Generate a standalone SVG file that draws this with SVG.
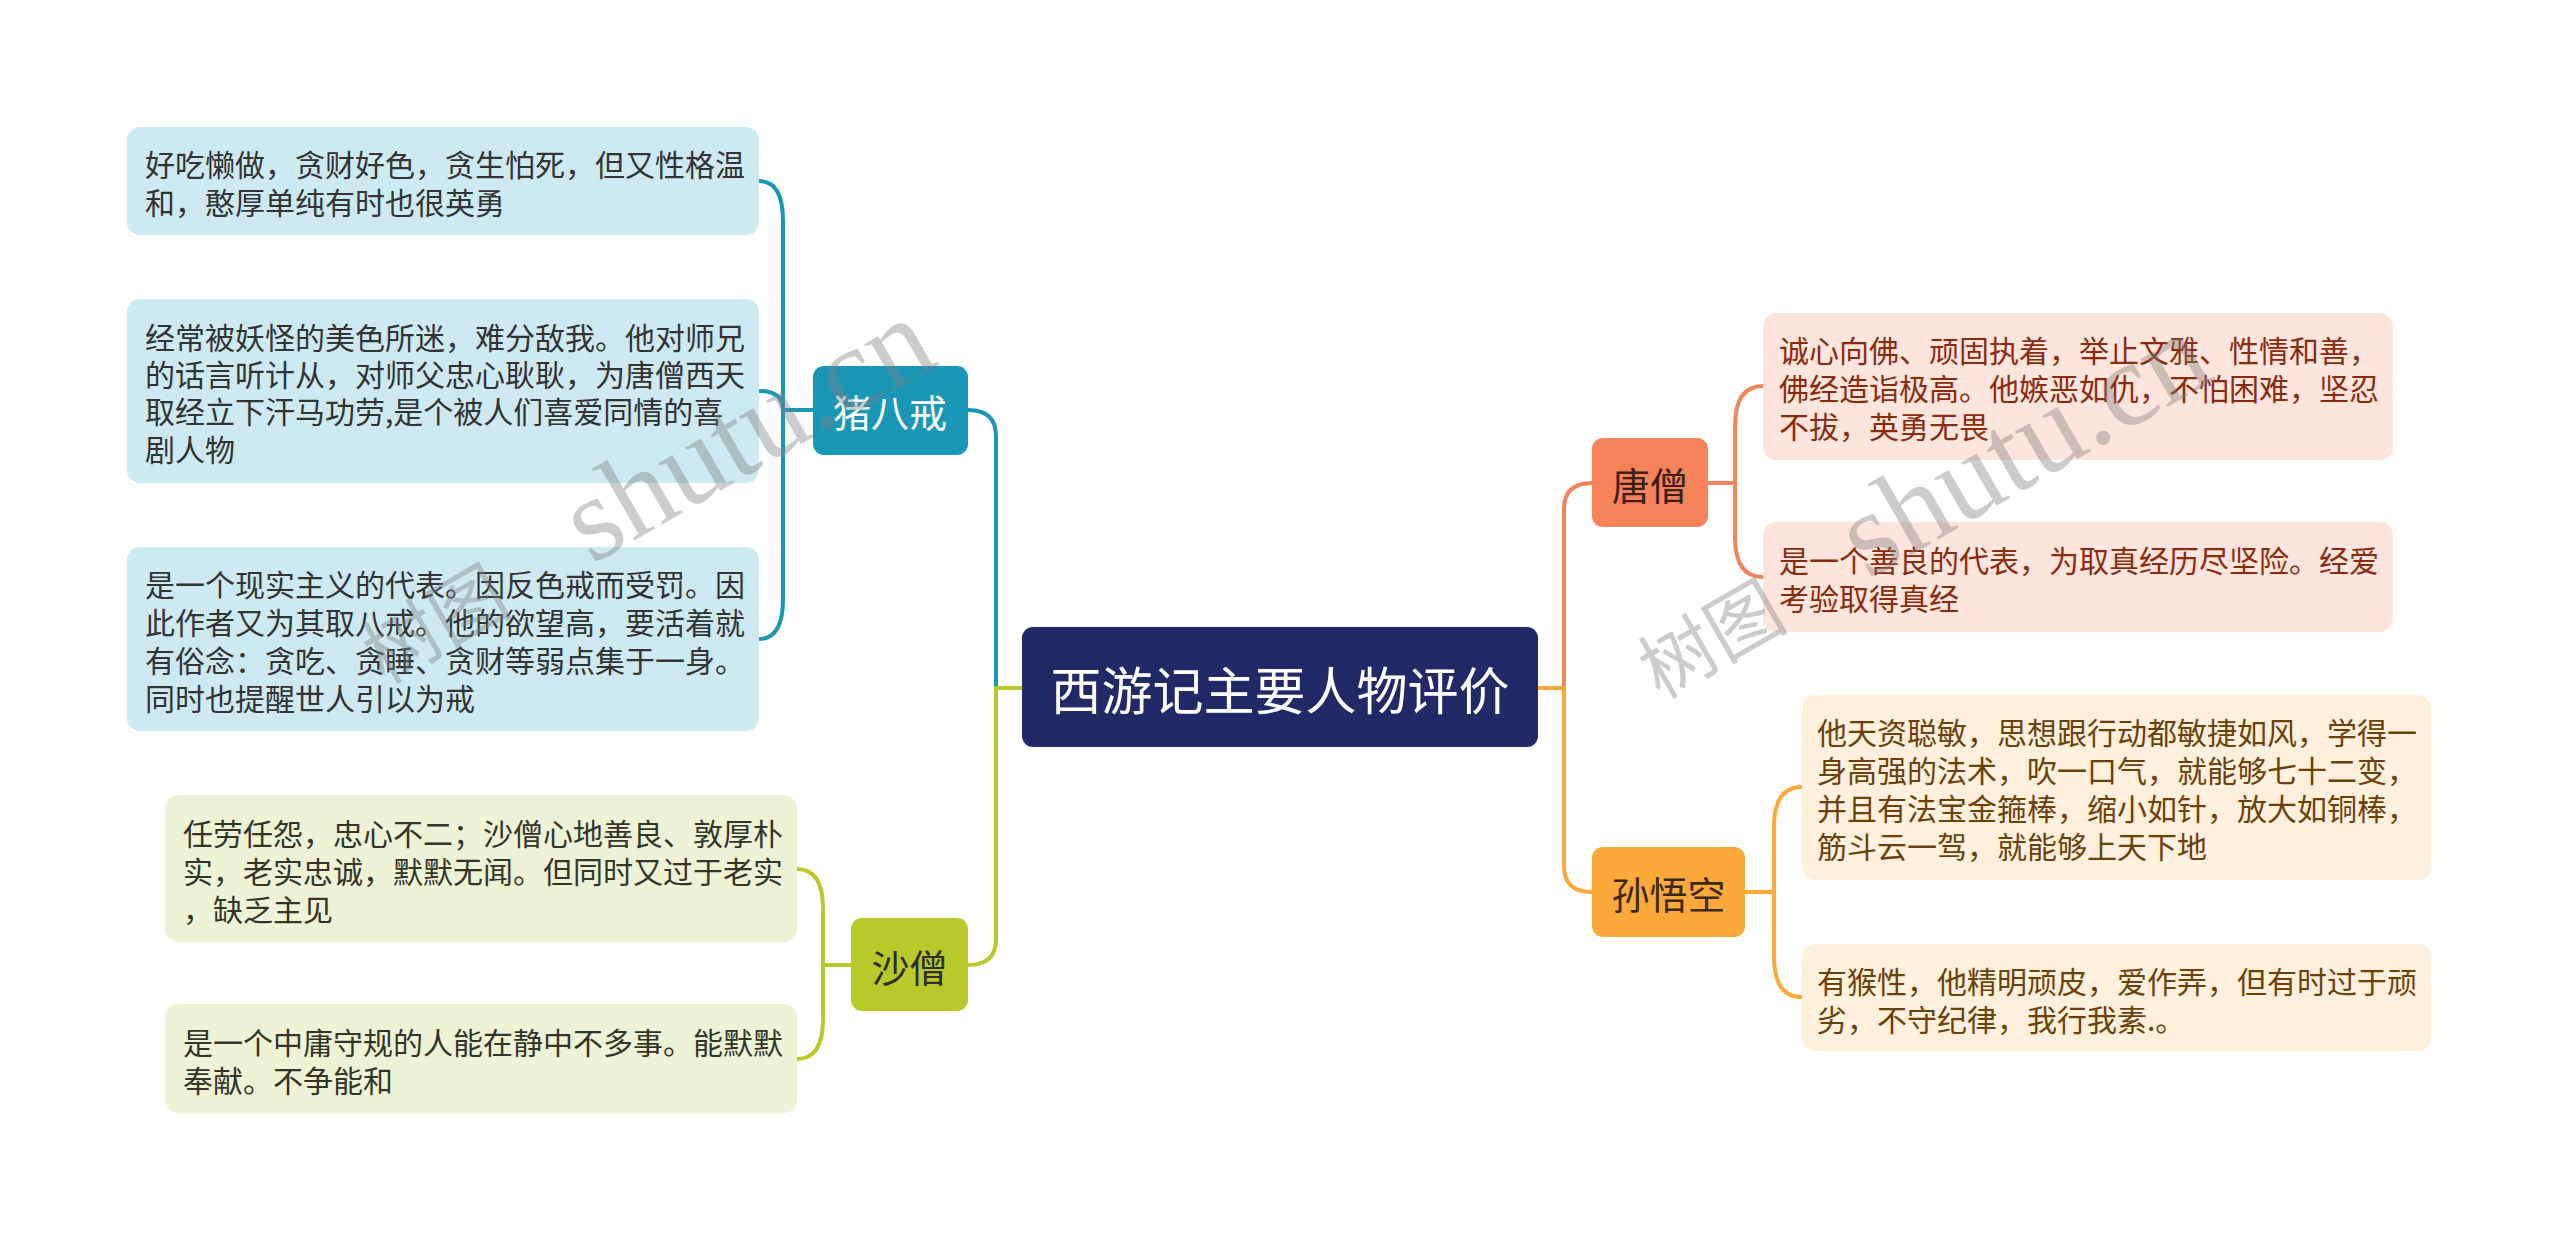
<svg xmlns="http://www.w3.org/2000/svg" width="2560" height="1241" viewBox="0 0 2560 1241">
<style>
.t{font-family:"Noto Sans CJK SC","Noto Sans",sans-serif;font-size:30px;dominant-baseline:central}
.n{font-family:"Noto Sans CJK SC","Noto Sans",sans-serif;font-size:38px;dominant-baseline:central;text-anchor:middle}
.c{fill:none;stroke-width:4;stroke-linecap:round;stroke-linejoin:round}
.wm{font-family:"Liberation Serif","Noto Sans CJK SC",serif;fill:#808080;fill-opacity:0.4}
</style>
<rect width="2560" height="1241" fill="#ffffff"/>
<g id="connectors">
<path class="c" stroke="#1a97b7" d="M1022 688 H996 V436 Q996 410 968 410"/>
<path class="c" stroke="#b9c92b" d="M1022 688 H996 V939 Q996 965 968 965"/>
<path class="c" stroke="#f2835b" d="M1538 688 H1564 V509 Q1564 483 1592 483"/>
<path class="c" stroke="#fba93b" d="M1538 688 H1564 V866 Q1564 892 1592 892"/>
<path class="c" stroke="#1a97b7" d="M813 410 H783 V221 Q783 181 759 181"/>
<path class="c" stroke="#1a97b7" d="M813 410 H783 Q783 391 759 391"/>
<path class="c" stroke="#1a97b7" d="M813 410 H783 V599 Q783 639 759 639"/>
<path class="c" stroke="#b9c92b" d="M851 965 H823 V909 Q823 869 797 869"/>
<path class="c" stroke="#b9c92b" d="M851 965 H823 V1019 Q823 1059 797 1059"/>
<path class="c" stroke="#f2835b" d="M1708 483 H1735 V426 Q1735 386 1763 386"/>
<path class="c" stroke="#f2835b" d="M1708 483 H1735 V537 Q1735 577 1763 577"/>
<path class="c" stroke="#fba93b" d="M1745 892 H1774 V827 Q1774 787 1802 787"/>
<path class="c" stroke="#fba93b" d="M1745 892 H1774 V957 Q1774 997 1802 997"/>
</g>
<g id="root">
<rect x="1022" y="627" width="516" height="120" rx="11" fill="#222967"/>
<text x="1280" y="688" font-family="Noto Sans CJK SC, sans-serif" font-size="51" fill="#ffffff" text-anchor="middle" dominant-baseline="central">西游记主要人物评价</text>
</g>
<g id="zhu">
<rect x="813" y="366" width="155" height="89" rx="11" fill="#1a97b7"/>
<text class="n" x="890" y="410" fill="#ffffff">猪八戒</text>
</g>
<g id="zhu1">
<rect x="127" y="127" width="632" height="108" rx="13" fill="#cde9f2"/>
<text class="t" fill="#333333"><tspan x="145" y="163">好吃懒做，贪财好色，贪生怕死，但又性格温</tspan><tspan x="145" y="201">和，憨厚单纯有时也很英勇</tspan></text>
</g>
<g id="zhu2">
<rect x="127" y="299" width="632" height="184" rx="13" fill="#cde9f2"/>
<text class="t" fill="#333333"><tspan x="145" y="336">经常被妖怪的美色所迷，难分敌我。他对师兄</tspan><tspan x="145" y="373">的话言听计从，对师父忠心耿耿，为唐僧西天</tspan><tspan x="145" y="410">取经立下汗马功劳,是个被人们喜爱同情的喜</tspan><tspan x="145" y="448">剧人物</tspan></text>
</g>
<g id="zhu3">
<rect x="127" y="547" width="632" height="184" rx="13" fill="#cde9f2"/>
<text class="t" fill="#333333"><tspan x="145" y="583">是一个现实主义的代表。因反色戒而受罚。因</tspan><tspan x="145" y="621">此作者又为其取八戒。他的欲望高，要活着就</tspan><tspan x="145" y="659">有俗念：贪吃、贪睡、贪财等弱点集于一身。</tspan><tspan x="145" y="697">同时也提醒世人引以为戒</tspan></text>
</g>
<g id="sha">
<rect x="851" y="918" width="117" height="93" rx="11" fill="#b9c92b"/>
<text class="n" x="909.5" y="965" fill="#2e2e2a">沙僧</text>
</g>
<g id="sha1">
<rect x="165" y="795" width="632" height="147" rx="13" fill="#eff3d6"/>
<text class="t" fill="#33352a"><tspan x="183" y="832">任劳任怨，忠心不二；沙僧心地善良、敦厚朴</tspan><tspan x="183" y="870">实，老实忠诚，默默无闻。但同时又过于老实</tspan><tspan x="183" y="908">，缺乏主见</tspan></text>
</g>
<g id="sha2">
<rect x="165" y="1004" width="632" height="109" rx="13" fill="#eff3d6"/>
<text class="t" fill="#33352a"><tspan x="183" y="1041">是一个中庸守规的人能在静中不多事。能默默</tspan><tspan x="183" y="1079">奉献。不争能和</tspan></text>
</g>
<g id="tang">
<rect x="1592" y="438" width="116" height="89" rx="11" fill="#f6825a"/>
<text class="n" x="1650" y="483" fill="#3a2016">唐僧</text>
</g>
<g id="tang1">
<rect x="1763" y="313" width="630" height="147" rx="13" fill="#fde5dd"/>
<text class="t" fill="#8a2b0d"><tspan x="1779" y="349">诚心向佛、顽固执着，举止文雅、性情和善，</tspan><tspan x="1779" y="387">佛经造诣极高。他嫉恶如仇，不怕困难，坚忍</tspan><tspan x="1779" y="425">不拔，英勇无畏</tspan></text>
</g>
<g id="tang2">
<rect x="1763" y="522" width="630" height="110" rx="13" fill="#fde5dd"/>
<text class="t" fill="#8a2b0d"><tspan x="1779" y="559">是一个善良的代表，为取真经历尽坚险。经爱</tspan><tspan x="1779" y="597">考验取得真经</tspan></text>
</g>
<g id="sun">
<rect x="1592" y="847" width="153" height="90" rx="11" fill="#fca93b"/>
<text class="n" x="1668.5" y="892" fill="#3b2a10">孙悟空</text>
</g>
<g id="sun1">
<rect x="1802" y="695" width="629" height="185" rx="13" fill="#fef0dc"/>
<text class="t" fill="#6b4109"><tspan x="1817" y="731">他天资聪敏，思想跟行动都敏捷如风，学得一</tspan><tspan x="1817" y="769">身高强的法术，吹一口气，就能够七十二变，</tspan><tspan x="1817" y="807">并且有法宝金箍棒，缩小如针，放大如铜棒，</tspan><tspan x="1817" y="845">筋斗云一驾，就能够上天下地</tspan></text>
</g>
<g id="sun2">
<rect x="1802" y="944" width="629" height="107" rx="13" fill="#fef0dc"/>
<text class="t" fill="#6b4109"><tspan x="1817" y="980">有猴性，他精明顽皮，爱作弄，但有时过于顽</tspan><tspan x="1817" y="1018">劣，不守纪律，我行我素.。</tspan></text>
</g>
<g id="watermarks">
<text class="wm" transform="translate(384 685) rotate(-30)"><tspan font-size="75">树图</tspan><tspan font-size="120" dx="90">shutu.cn</tspan></text>
<text class="wm" transform="translate(1660 700) rotate(-30)"><tspan font-size="75">树图</tspan><tspan font-size="120" dx="90">shutu.cn</tspan></text>
</g>
</svg>
